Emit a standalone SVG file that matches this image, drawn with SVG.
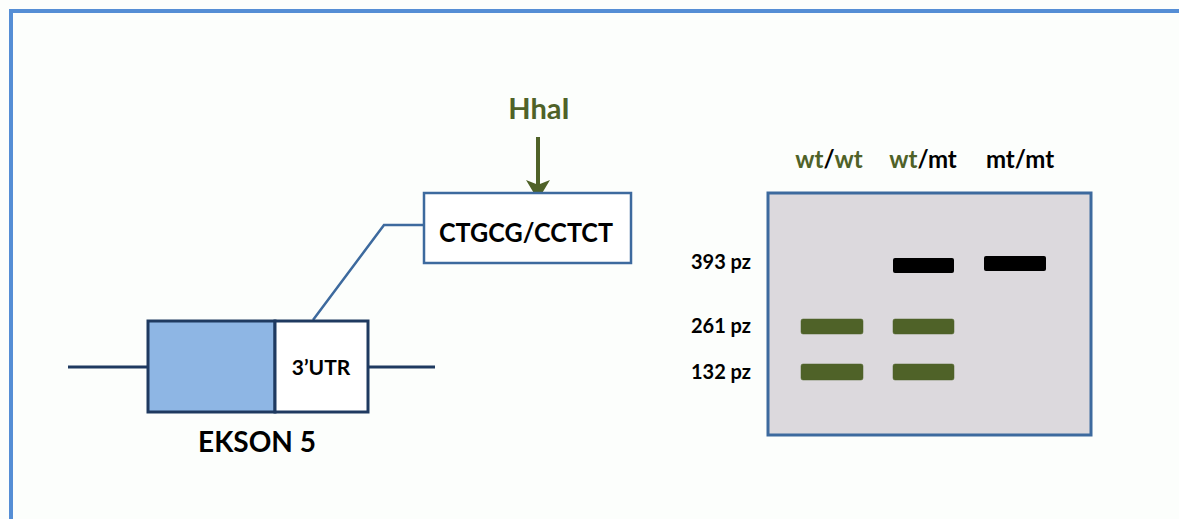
<svg xmlns="http://www.w3.org/2000/svg" width="1179" height="519" viewBox="0 0 1179 519">
<style>
.t{font-family:Lato,"Open Sans","Liberation Sans",sans-serif;font-weight:bold;fill:#000}
.g{fill:#4f6228}
.band{fill:#4f6228;stroke:#4f6228;stroke-width:0.5}
.blk{fill:#000}
</style>
<defs>
<marker id="ah" markerWidth="6" markerHeight="6" refX="5" refY="3" orient="auto" markerUnits="strokeWidth">
<path d="M0,0 L5,3 L0,6 L1.2,3 Z" fill="#4f6228"/>
</marker>
</defs>
<rect x="0" y="0" width="1179" height="519" fill="#fcfefc"/>
<path d="M11,519 L11,11 L1179,11" fill="none" stroke="#558ed5" stroke-width="4"/>
<g id="connectors">
<line x1="68" y1="367" x2="148" y2="367" stroke="#1f3a60" stroke-width="3"/>
<line x1="368" y1="367" x2="435" y2="367" stroke="#1f3a60" stroke-width="3"/>
<polyline points="313,320 384,225 424,225" fill="none" stroke="#3d6a9e" stroke-width="2.5"/>
<line x1="538" y1="137" x2="538" y2="200" stroke="#4f6228" stroke-width="4" marker-end="url(#ah)"/>
</g>
<g id="exon">
<rect x="148" y="321" width="127" height="91" fill="#8eb6e4" stroke="#1f3a60" stroke-width="3"/>
<rect x="275" y="321" width="93" height="91" fill="#ffffff" stroke="#1f3a60" stroke-width="3"/>
<text class="t" x="321" y="375" font-size="21" text-anchor="middle">3’UTR</text>
<text class="t" x="257" y="452" font-size="28" text-anchor="middle">EKSON 5</text>
</g>
<g id="site">
<rect x="424" y="193" width="207" height="70" fill="#ffffff" stroke="#3d6a9e" stroke-width="2.5"/>
<text class="t" x="526" y="242" font-size="26" text-anchor="middle" textLength="174" lengthAdjust="spacingAndGlyphs">CTGCG/CCTCT</text>
</g>
<g id="enzyme">
<text class="t g" x="539" y="119" font-size="29" text-anchor="middle">HhaI</text>
</g>
<g id="gel">
<rect x="768" y="193" width="323" height="242" fill="#dcd9dd" stroke="#3d6a9e" stroke-width="3"/>
<rect class="blk" x="893" y="258" width="61" height="15" rx="2"/>
<rect class="blk" x="984" y="256" width="62" height="15" rx="2"/>
<rect class="band" x="801" y="319" width="62" height="15" rx="2"/>
<rect class="band" x="893" y="319" width="61" height="15" rx="2"/>
<rect class="band" x="801" y="364" width="62" height="16" rx="2"/>
<rect class="band" x="893" y="364" width="61" height="16" rx="2"/>
</g>
<g id="labels">
<text class="t" x="751" y="269" font-size="20" text-anchor="end">393 pz</text>
<text class="t" x="751" y="333" font-size="20" text-anchor="end">261 pz</text>
<text class="t" x="751" y="379" font-size="20" text-anchor="end">132 pz</text>
<text class="t" x="829" y="168" font-size="24" text-anchor="middle"><tspan class="g">wt</tspan>/<tspan class="g">wt</tspan></text>
<text class="t" x="923" y="168" font-size="24" text-anchor="middle"><tspan class="g">wt</tspan>/mt</text>
<text class="t" x="1020" y="168" font-size="24" text-anchor="middle">mt/mt</text>
</g>
</svg>
